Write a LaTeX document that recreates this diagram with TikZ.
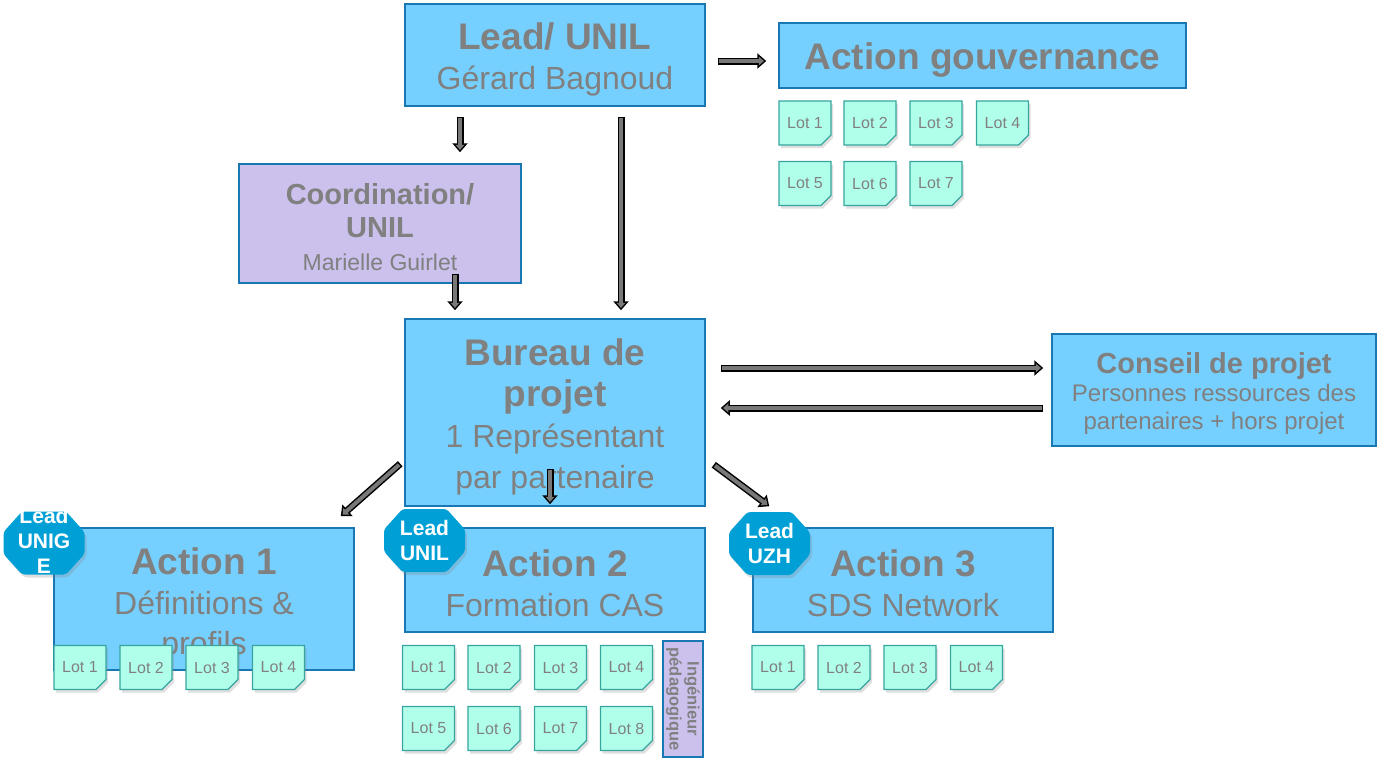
\documentclass[tikz,border=0pt]{standalone}
\usepackage{fontspec}
\setmainfont{Liberation Sans}
\usetikzlibrary{shapes.misc,shadows,calc,arrows.meta}
\definecolor{boxblue}{RGB}{118,208,255}
\definecolor{boxedge}{RGB}{25,120,180}
\definecolor{txtgray}{RGB}{128,128,128}
\definecolor{lav}{RGB}{204,192,236}
\definecolor{lotfill}{RGB}{176,255,234}
\definecolor{lotedge}{RGB}{55,165,158}
\definecolor{badgeblue}{RGB}{0,160,214}
\definecolor{arrgray}{RGB}{120,120,120}
\newcommand\mystrut[1]{\rule{0pt}{#1}}
\begin{document}
\begin{tikzpicture}[x=1pt,y=-1pt,
  bigbox/.style={draw=boxedge, line width=1.5pt, fill=boxblue, text=txtgray, align=center, inner sep=0pt},
  lavbox/.style={bigbox, fill=lav},
  lot/.style={chamfered rectangle, chamfered rectangle corners=south east, chamfered rectangle sep=5pt,
    draw=lotedge, line width=1.3pt, fill=lotfill, text=txtgray, minimum width=52pt, minimum height=44pt,
    inner sep=0pt, font=\fontsize{16}{18}\selectfont,
    drop shadow={opacity=0.25, shadow xshift=2pt, shadow yshift=-3pt},
    path picture={\fill[lotedge] ([xshift=-5pt]path picture bounding box.south east) --
      ([yshift=5pt]path picture bounding box.south east) --
      ([shift={(-5pt,5pt)}]path picture bounding box.south east) -- cycle;}},
  badgefill/.style={fill=badgeblue, rounded corners=3pt,
    drop shadow={opacity=0.25, shadow xshift=2pt, shadow yshift=-3pt}},
  badgetext/.style={text=white, align=center, inner sep=0pt, font=\fontsize{21}{25}\selectfont\bfseries},
  arr/.style={line width=7pt, draw=black, -{Triangle[length=9pt,width=15pt]},
    postaction={draw=arrgray, line width=4pt, shorten >=2.3pt, shorten <=1.5pt,
      -{Triangle[length=5.2pt,width=8.7pt]}}}
]
\useasboundingbox (0,0) rectangle (1378,758);

% main boxes
\node[bigbox, minimum width=300pt, minimum height=102pt, font=\fontsize{32}{40}\selectfont] (lead) at (555,55)
  {{\fontsize{37}{40}\selectfont\bfseries\mystrut{35pt}Lead/ UNIL}\\Gérard Bagnoud};
\node[bigbox, minimum width=407pt, minimum height=65pt, font=\fontsize{37}{40}\selectfont\bfseries] (gov) at (982.5,55.5)
  {\mystrut{36pt}Action gouvernance};
\node[lavbox, minimum width=282pt, minimum height=119pt, font=\fontsize{23}{33}\selectfont] (coord) at (380,223.5)
  {{\fontsize{29}{35}\selectfont\bfseries\mystrut{28pt}Coordination/}\\{\fontsize{29}{33}\selectfont\bfseries UNIL}\\Marielle Guirlet};
\node[bigbox, minimum width=300pt, minimum height=187pt, font=\fontsize{32}{41}\selectfont] (bureau) at (555,412.5)
  {{\fontsize{37}{43}\selectfont\bfseries\mystrut{35pt}Bureau de}\\{\fontsize{37}{41}\selectfont\bfseries projet}\\1 Représentant\\par partenaire};
\node[bigbox, minimum width=324pt, minimum height=112pt, font=\fontsize{24}{28}\selectfont] (conseil) at (1214,390)
  {{\fontsize{29}{32}\selectfont\bfseries\mystrut{28pt}Conseil de projet}\\Personnes ressources des\\partenaires + hors projet};
\node[bigbox, minimum width=300pt, minimum height=142pt, font=\fontsize{32}{40}\selectfont] (act1) at (204,599)
  {{\fontsize{37}{40}\selectfont\bfseries\mystrut{37pt}Action 1}\\Définitions \&\\profils};
\node[bigbox, minimum width=300pt, minimum height=104pt, font=\fontsize{32}{40}\selectfont] (act2) at (555,580)
  {{\fontsize{37}{40}\selectfont\bfseries\mystrut{34pt}Action 2}\\Formation CAS};
\node[bigbox, minimum width=300pt, minimum height=104pt, font=\fontsize{32}{40}\selectfont] (act3) at (903,580)
  {{\fontsize{37}{40}\selectfont\bfseries\mystrut{34pt}Action 3}\\SDS Network};
\node[lavbox, rotate=-90, minimum width=116pt, minimum height=40pt, font=\fontsize{16.5}{18}\selectfont\bfseries] (ing) at (683,699)
  {Ingénieur\\pédagogique};

% lots
\foreach \i/\x/\y in {1/805/123, 2/870/123, 3/936/123, 4/1002.5/123, 5/805/183.5, 6/870/183.5, 7/936/183.5}
  \node[lot] (g\i) at (\x,\y) {Lot \i};
\foreach \i/\x in {1/80, 2/146, 3/212, 4/278.5}
  \node[lot] (a\i) at (\x,667.5) {Lot \i};
\foreach \i/\x/\y in {1/428.5/667.5, 2/494/667.5, 3/560.5/667.5, 4/626.5/667.5, 5/428.5/728.5, 6/494/728.5, 7/560.5/728.5, 8/626.5/728.5}
  \node[lot] (b\i) at (\x,\y) {Lot \i};
\foreach \i/\x in {1/778, 2/844, 3/910, 4/976.5}
  \node[lot] (c\i) at (\x,667.5) {Lot \i};

% badges
\foreach \n/\cx/\cy in {l1c/44/543, l2c/424.5/540.5, l3c/769.5/543.5}{
  \coordinate (\n) at (\cx,\cy);
  \fill[badgefill] ($(\n)+(-40.5,-11)$) -- ($(\n)+(-22,-31.5)$) -- ($(\n)+(22,-31.5)$) -- ($(\n)+(40.5,-11)$)
    -- ($(\n)+(40.5,11)$) -- ($(\n)+(22,31.5)$) -- ($(\n)+(-22,31.5)$) -- ($(\n)+(-40.5,11)$) -- cycle;
}
\begin{scope}
  \clip (0,509) rectangle (100,600);
  \node[badgetext] (l1) at ($(l1c)+(0,-2)$) {Lead\\UNIG\\E};
\end{scope}
\node[badgetext] (l2) at (l2c) {Lead\\UNIL};
\node[badgetext] (l3) at (l3c) {Lead\\UZH};

% arrows
\draw[arr] ($(lead.east)+(12,6)$) -- ($(gov.west)+(-12,5.5)$);
\draw[arr] ($(lead.south)+(-95,10)$) -- ($(coord.north)+(80,-11)$);
\draw[arr] ($(lead.south)+(66,10)$) -- ($(bureau.north)+(66,-8)$);
\draw[arr] ($(coord.south)+(75,-10)$) -- ($(bureau.north)+(-100,-8)$);
\draw[arr] ($(bureau.east)+(15,-44.5)$) -- ($(conseil.west)+(-8,-22)$);
\draw[arr] ($(conseil.west)+(-8,18)$) -- ($(bureau.east)+(15,-4.5)$);
\draw[arr] ($(bureau.south west)+(-4,-43)$) -- ($(act1.north east)+(-14,-11)$);
\draw[arr] ($(bureau.south)+(-5,-38)$) -- ($(act2.north)+(-5,-23)$);
\draw[arr] ($(bureau.south east)+(8,-42)$) -- ($(act3.north west)+(17,-21)$);
\end{tikzpicture}
\end{document}
